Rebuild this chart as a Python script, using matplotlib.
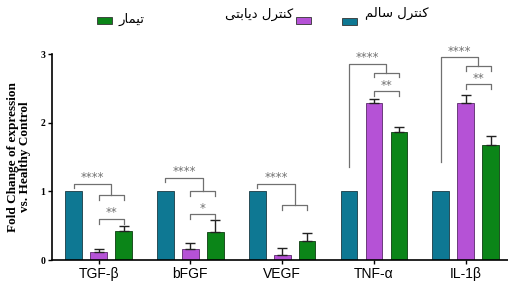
import matplotlib.pyplot as plt
from matplotlib.patches import Rectangle

genes = ['TGF-β', 'bFGF', 'VEGF', 'TNF-α', 'IL-1β']
healthy = [1.0, 1.0, 1.0, 1.0, 1.0]
diabetic = [0.11, 0.16, 0.08, 2.29, 2.29]
diabetic_err = [0.05, 0.09, 0.10, 0.05, 0.12]
treated = [0.42, 0.41, 0.27, 1.87, 1.68]
treated_err = [0.08, 0.17, 0.13, 0.07, 0.13]

# significance brackets (levels)
outer_y = [1.11, 1.20, 1.11, 2.86, 2.95]
outer_drop = [1.05, 1.13, 1.05, 1.35, 1.42]
inner_y = [0.94, 1.00, 0.80, 2.73, 2.82]
pair_y = [0.60, 0.67, None, 2.46, 2.56]
pair_stars = ['**', '*', None, '**', '**']


def shape(chars):
    # arabic presentation forms, reversed to visual order
    return ''.join(reversed(chars))


w_kontrol = '\uFB90\uFEE8\uFE98\uFEAE\uFEDD'
w_salem = '\uFEB3\uFE8E\uFEDF\uFEE2'
w_diabeti = '\uFEA9\uFBFE\uFE8E\uFE91\uFE98\uFBFD'
w_tymar = '\uFE97\uFBFF\uFEE4\uFE8E\uFEAD'
lbl_healthy = shape(w_kontrol + ' ' + w_salem)
lbl_diabetic = shape(w_kontrol + ' ' + w_diabeti)
lbl_treated = shape(w_tymar)

c_teal = '#0e7893'
c_purple = '#b552d6'
c_green = '#0b8518'
c_br = '#707070'

W, H = 508, 289
fig = plt.figure(figsize=(W / 100, H / 100), dpi=100)
ax = fig.add_axes([52 / W, 29 / H, 456 / W, 206 / H])

x = list(range(len(genes)))
off = 0.272
bw = 0.182
ekw = dict(ecolor='#222222', elinewidth=1.0, capthick=1.0)
ax.bar([i - off for i in x], healthy, bw, color=c_teal, edgecolor='#1a3a44', linewidth=0.6)
ax.bar(x, diabetic, bw, color=c_purple, edgecolor='#5a2a6a', linewidth=0.6,
       yerr=[[0] * len(x), diabetic_err], capsize=3.5, error_kw=ekw)
ax.bar([i + off for i in x], treated, bw, color=c_green, edgecolor='#0d3d10', linewidth=0.6,
       yerr=[[0] * len(x), treated_err], capsize=3.5, error_kw=ekw)

d = 0.07
for i in x:
    xl, xm, xr = i - off, i, i + off
    mid = (xm + xr) / 2
    # inner bracket diabetic vs treated
    ax.plot([xm, xm, xr, xr], [inner_y[i] - d, inner_y[i], inner_y[i], inner_y[i] - d],
            color=c_br, lw=0.9)
    # outer bracket healthy vs both
    ax.plot([xl, xl, mid, mid], [outer_drop[i], outer_y[i], outer_y[i], inner_y[i]],
            color=c_br, lw=0.9)
    ax.text((xl + mid) / 2, outer_y[i] - 0.01, '****', ha='center', va='bottom',
            color=c_br, fontsize=8.5)
    if pair_y[i] is not None:
        ax.plot([xm, xm, xr, xr], [pair_y[i] - d, pair_y[i], pair_y[i], pair_y[i] - d],
                color=c_br, lw=0.9)
        ax.text(mid, pair_y[i] - 0.01, pair_stars[i], ha='center', va='bottom',
                color=c_br, fontsize=8.5)

ax.set_xlim(-0.507, 4.46)
ax.set_ylim(0, 3)
ax.set_yticks([0, 1, 2, 3])
ax.set_yticklabels(['0', '1', '2', '3'], fontfamily='Liberation Serif', fontweight='bold', fontsize=7)
ax.set_xticks(x)
ax.set_xticklabels(genes, fontfamily='Liberation Sans', fontsize=10)
ax.tick_params(axis='both', length=3, width=1, direction='out', pad=2)
for s in ['top', 'right']:
    ax.spines[s].set_visible(False)
for s in ['left', 'bottom']:
    ax.spines[s].set_linewidth(1.2)

fig.text(19 / W, 1 - 157 / H, 'Fold Change of expression\nvs. Healthy Control', rotation=90,
         ha='center', va='center', fontfamily='Liberation Serif', fontweight='bold',
         fontsize=9.5, linespacing=1.05)

# legend (manual layout, right-to-left text)
def patch(x0, y0, color):
    fig.add_artist(Rectangle((x0 / W, 1 - (y0 + 7) / H), 15 / W, 7 / H, transform=fig.transFigure,
                             facecolor=color, edgecolor='#333333', linewidth=0.6))


patch(97, 17, c_green)
patch(296, 17, c_purple)
patch(342, 18, c_teal)
fig.text(118 / W, 1 - 19 / H, lbl_treated, ha='left', va='center', fontsize=9.5,
         fontfamily='DejaVu Sans')
fig.text(293 / W, 1 - 14 / H, lbl_diabetic, ha='right', va='center', fontsize=9.5,
         fontfamily='DejaVu Sans')
fig.text(365 / W, 1 - 13 / H, lbl_healthy, ha='left', va='center', fontsize=9.5,
         fontfamily='DejaVu Sans')

fig.savefig('out.png', dpi=100)
